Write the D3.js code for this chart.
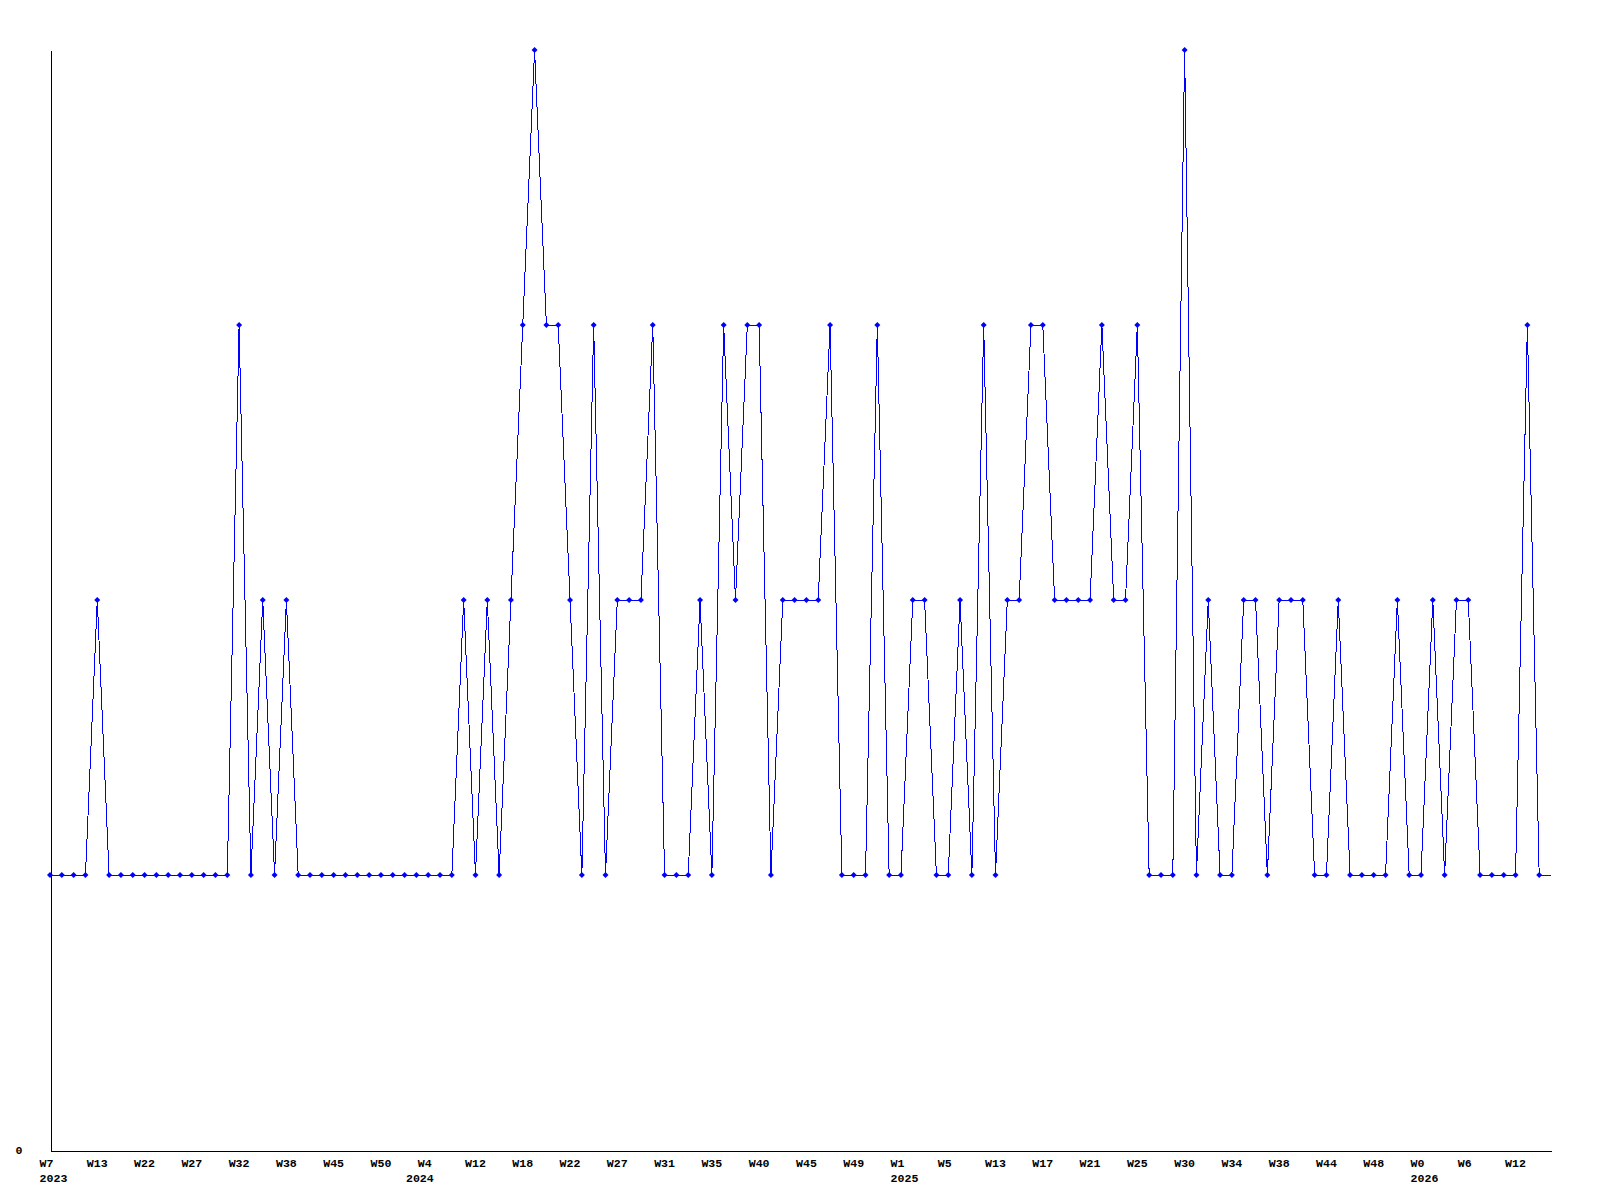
<!DOCTYPE html>
<html>
<head>
<meta charset="utf-8">
<script src="https://cdn.jsdelivr.net/npm/d3@7"></script>
<style>
  body { margin: 0; background: #fff; }
  svg text { font-family: "Liberation Mono", "DejaVu Sans Mono", monospace; font-weight: bold; font-size: 11.6px; fill: #000; }
</style>
</head>
<body>
<div id="chart"></div>
<script>
// one value per sample, left to right
var values = [
  1,1,1,1,2,1,1,1,1,1,
  1,1,1,1,1,1,3,1,2,1,
  2,1,1,1,1,1,1,1,1,1,
  1,1,1,1,1,2,1,2,1,2,
  3,4,3,3,2,1,3,1,2,2,
  2,3,1,1,1,2,1,3,2,3,
  3,1,2,2,2,2,3,1,1,1,
  3,1,1,2,2,1,1,2,1,3,
  1,2,2,3,3,2,2,2,2,3,
  2,2,3,1,1,1,4,1,2,1,
  1,2,2,1,2,2,2,1,1,2,
  1,1,1,1,2,1,1,2,1,2,
  2,1,1,1,1,3,1,1
];

// a week label every 4th sample
var weekLabels = ["W7","W13","W22","W27","W32","W38","W45","W50","W4","W12","W18","W22",
                  "W27","W31","W35","W40","W45","W49","W1","W5","W13","W17","W21","W25",
                  "W30","W34","W38","W44","W48","W0","W6","W12"];
var labelStep = 4;

// year labels and the sample where each year starts
var years = ["2023","2024","2025","2026"];
var yearStart = [0, 31, 72, 116];

var yMax = 4;
var yTicks = [0];

function drawChart() {
  var width = 1600, height = 1200;
  var margin = {top: 50, right: 49, bottom: 50, left: 50};
  var plotBottom = height - margin.bottom;
  var charW = 6.96;

  var svg = d3.select("#chart").append("svg")
    .attr("width", width)
    .attr("height", height);

  var x = d3.scaleLinear()
    .domain([0, values.length - 1])
    .range([margin.left, width - margin.right]);

  var y = d3.scaleLinear()
    .domain([0, yMax])
    .range([plotBottom, margin.top]);

  // y axis: just the line and the 0 label
  var yAxis = svg.append("g")
    .attr("transform", "translate(" + (margin.left + 0.5) + ",0)")
    .call(d3.axisLeft(y).tickValues(yTicks).tickFormat(d3.format("d"))
      .tickSize(0).tickSizeOuter(0).tickPadding(28));
  yAxis.select(".domain").attr("stroke", "#000").attr("shape-rendering", "crispEdges");
  yAxis.selectAll("text").attr("font-size", null).attr("font-family", null);

  // x axis line
  var xAxis = svg.append("g")
    .attr("transform", "translate(0," + (plotBottom + 0.5) + ")")
    .call(d3.axisBottom(x).tickValues([]).tickSize(0).tickSizeOuter(0));
  xAxis.select(".domain").attr("stroke", "#000").attr("shape-rendering", "crispEdges");

  // week labels (padded to 3 chars, so start 1.5 chars left of the sample)
  svg.append("g").selectAll("text")
    .data(weekLabels)
    .enter()
    .append("text")
    .attr("x", (d, i) => x(i * labelStep) - 1.5 * charW)
    .attr("y", plotBottom + 17)
    .text(d => d);

  svg.append("g").selectAll("text")
    .data(years)
    .enter()
    .append("text")
    .attr("x", (d, i) => x(yearStart[i]) - 1.5 * charW)
    .attr("y", plotBottom + 32)
    .text(d => d);

  // the series
  var line = d3.line()
    .x((d, i) => x(i))
    .y(d => y(d));

  svg.append("path")
    .datum(values)
    .attr("d", line)
    .attr("fill", "none")
    .attr("stroke", "#0000ff")
    .attr("stroke-width", 1)
    .attr("shape-rendering", "crispEdges");

  // markers on every sample but the last
  svg.append("g").selectAll("path")
    .data(values.slice(0, values.length - 1))
    .enter()
    .append("path")
    .attr("transform", (d, i) => "translate(" + x(i) + "," + y(d) + ")")
    .attr("d", "M0,-3L3,0L0,3L-3,0Z")
    .attr("fill", "#0000ff");
}

drawChart();
</script>
</body>
</html>
